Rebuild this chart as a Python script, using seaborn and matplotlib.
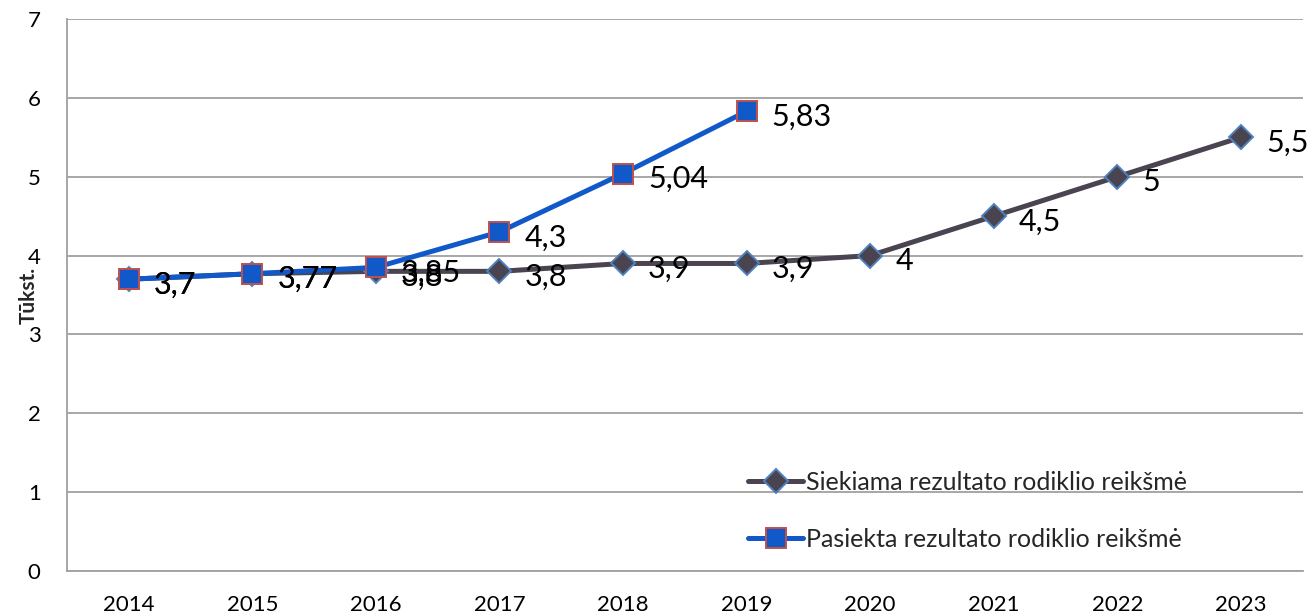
import matplotlib
matplotlib.use("Agg")
import matplotlib.pyplot as plt
import seaborn as sns

# Duomenys
years = [2014, 2015, 2016, 2017, 2018, 2019, 2020, 2021, 2022, 2023]
target = [3.7, 3.77, 3.8, 3.8, 3.9, 3.9, 4.0, 4.5, 5.0, 5.5]
target_labels = ["3,7", "3,77", "3,8", "3,8", "3,9", "3,9", "4", "4,5", "5", "5,5"]
achieved_years = [2014, 2015, 2016, 2017, 2018, 2019]
achieved = [3.7, 3.77, 3.85, 4.3, 5.04, 5.83]
achieved_labels = ["3,7", "3,77", "3,85", "4,3", "5,04", "5,83"]

sns.set_theme(style="whitegrid")
plt.rcParams["font.family"] = ["Lato", "DejaVu Sans"]

fig = plt.figure(figsize=(13.16, 6.16), dpi=100)
ax = fig.add_axes([0.0509, 0.0731, 0.939, 0.896])

gray = "#4A4350"
blue = "#1158C8"

sns.lineplot(x=years, y=target, ax=ax, color=gray, linewidth=3.6,
             marker="D", markersize=12, markerfacecolor=gray,
             markeredgecolor="#4F81BD", markeredgewidth=1.4,
             label="Siekiama rezultato rodiklio reikšmė", zorder=3)
sns.lineplot(x=achieved_years, y=achieved, ax=ax, color=blue, linewidth=3.6,
             marker="s", markersize=14, markerfacecolor=blue,
             markeredgecolor="#C0504D", markeredgewidth=1.4,
             label="Pasiekta rezultato rodiklio reikšmė", zorder=4)

# Reikšmių žymės
for x, y, t in zip(years, target, target_labels):
    ax.annotate(t, (x, y), xytext=(18, -4), textcoords="offset points",
                ha="left", va="center", fontsize=22, color="black",
                zorder=5, annotation_clip=False)
for x, y, t in zip(achieved_years, achieved, achieved_labels):
    ax.annotate(t, (x, y), xytext=(18, -4), textcoords="offset points",
                ha="left", va="center", fontsize=22, color="black",
                zorder=6, annotation_clip=False)

ax.set_xlim(2013.5, 2023.5)
ax.set_ylim(0, 7)
ax.set_xticks(years)
ax.set_yticks(range(0, 8))
ax.grid(axis="x", visible=False)
ax.grid(axis="y", color="#A0A0A0", linewidth=1.3)
ax.tick_params(axis="both", length=0, labelsize=16, colors="black")
ax.tick_params(axis="x", pad=17)
ax.tick_params(axis="y", pad=19)
for side in ["top", "right"]:
    ax.spines[side].set_visible(False)
for side in ["left", "bottom"]:
    ax.spines[side].set_color("#A0A0A0")
    ax.spines[side].set_linewidth(1.3)

ax.set_xlabel("")
ax.set_ylabel("Tūkst.", fontsize=15, fontweight="bold", labelpad=-8)

ax.legend(loc="upper left", bbox_to_anchor=(0.533, 0.222), frameon=False,
          fontsize=18, handlelength=2.2, handletextpad=0.1, labelspacing=1.35)

fig.savefig("out.png", dpi=100)
